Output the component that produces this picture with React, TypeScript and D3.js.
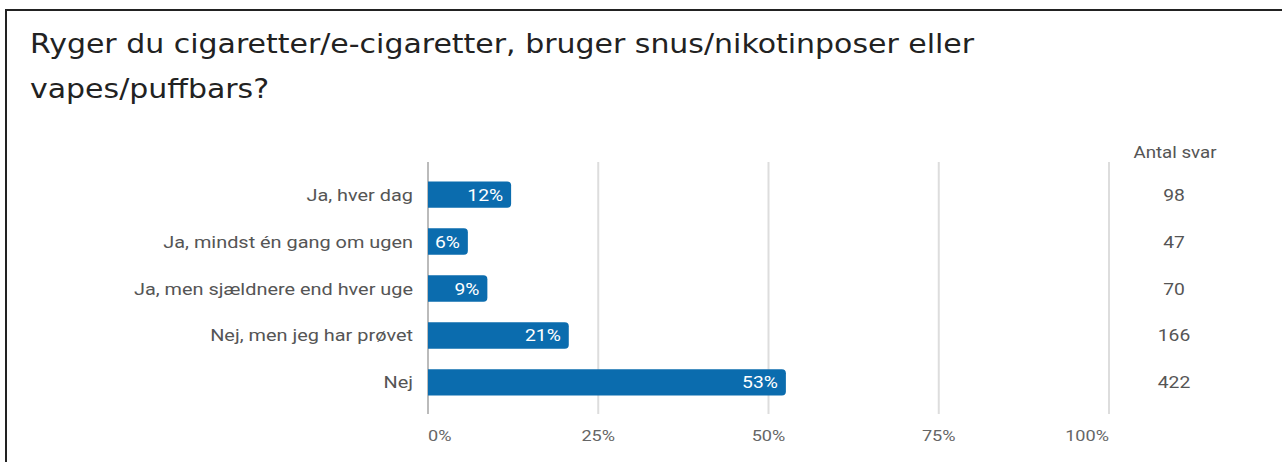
import React from "react";
import * as d3 from "d3";

const categories = [
  "Ja, hver dag",
  "Ja, mindst én gang om ugen",
  "Ja, men sjældnere end hver uge",
  "Nej, men jeg har prøvet",
  "Nej",
];
const counts = [98, 47, 70, 166, 422];
const ticks = [0, 0.25, 0.5, 0.75, 1];
const titleLines = [
  "Ryger du cigaretter/e-cigaretter, bruger snus/nikotinposer eller",
  "vapes/puffbars?",
];
const countHeader = "Antal svar";

const W = 1282;
const H = 462;
const SX = 1.17; // horizontal stretch of the screenshot text
const TSX = 1.11;

function SText(props: {
  x: number;
  y: number;
  anchor: "start" | "middle" | "end";
  size: number;
  fill: string;
  sx?: number;
  family?: string;
  children: React.ReactNode;
}) {
  const s = props.sx ?? SX;
  return (
    <text
      transform={`translate(${props.x},${props.y}) scale(${s},1)`}
      textAnchor={props.anchor}
      fontFamily={props.family ?? "Roboto"}
      fontSize={props.size}
      fill={props.fill}
    >
      {props.children}
    </text>
  );
}

export default function App() {
  const total = d3.sum(counts);
  const x = d3.scaleLinear().domain([0, 1]).range([428, 1109]);
  const y = d3.scaleBand().domain(categories).range([172, 405]).paddingInner(0.44).paddingOuter(0.2);
  const bh = y.bandwidth();
  const r = 4;
  const barPath = (w: number, top: number) => {
    const x0 = x(0);
    const x1 = x0 + w;
    const rr = Math.min(r, w / 2);
    const p = d3.path();
    p.moveTo(x0, top);
    p.lineTo(x1 - rr, top);
    p.arcTo(x1, top, x1, top + rr, rr);
    p.lineTo(x1, top + bh - rr);
    p.arcTo(x1, top + bh, x1 - rr, top + bh, rr);
    p.lineTo(x0, top + bh);
    p.closePath();
    return p.toString();
  };
  const fmt = d3.format(".0%");
  return (
    <svg width={W} height={H} style={{ position: "absolute", left: 0, top: 0, background: "#fff" }}>
      <rect x={0} y={0} width={W} height={H} fill="#fff" />
      <line x1={6} y1={10} x2={W} y2={10} stroke="#222" strokeWidth={2} />
      <line x1={6} y1={9} x2={6} y2={H} stroke="#222" strokeWidth={2} />
      {titleLines.map((t, i) => (
        <SText key={i} x={30} y={53 + i * 45} anchor="start" size={27} fill="#222" sx={TSX} family="DejaVu Sans">
          {t}
        </SText>
      ))}
      {ticks.map((t, i) => (
        <g key={i}>
          <line x1={x(t)} x2={x(t)} y1={162} y2={414} stroke={i === 0 ? "#bbb" : "#ddd"} strokeWidth={2} />
          <SText
            x={x(t)}
            y={441}
            anchor={i === 0 ? "start" : i === ticks.length - 1 ? "end" : "middle"}
            size={15.5}
            fill="#666"
          >
            {fmt(t)}
          </SText>
        </g>
      ))}
      {categories.map((c, i) => {
        const v = counts[i] / total;
        const top = y(c)!;
        const w = x(v) - x(0);
        const cy = top + bh / 2;
        return (
          <g key={c}>
            <SText x={413} y={cy + 6} anchor="end" size={17} fill="#555">
              {c}
            </SText>
            <path d={barPath(w, top)} fill="#0b6cae" />
            <SText x={x(v) - 8} y={cy + 6} anchor="end" size={16.5} fill="#fff">
              {fmt(v)}
            </SText>
            <SText x={1174} y={cy + 6} anchor="middle" size={16.5} fill="#555">
              {counts[i]}
            </SText>
          </g>
        );
      })}
      <SText x={1175} y={158} anchor="middle" size={16} fill="#555">
        {countHeader}
      </SText>
    </svg>
  );
}
